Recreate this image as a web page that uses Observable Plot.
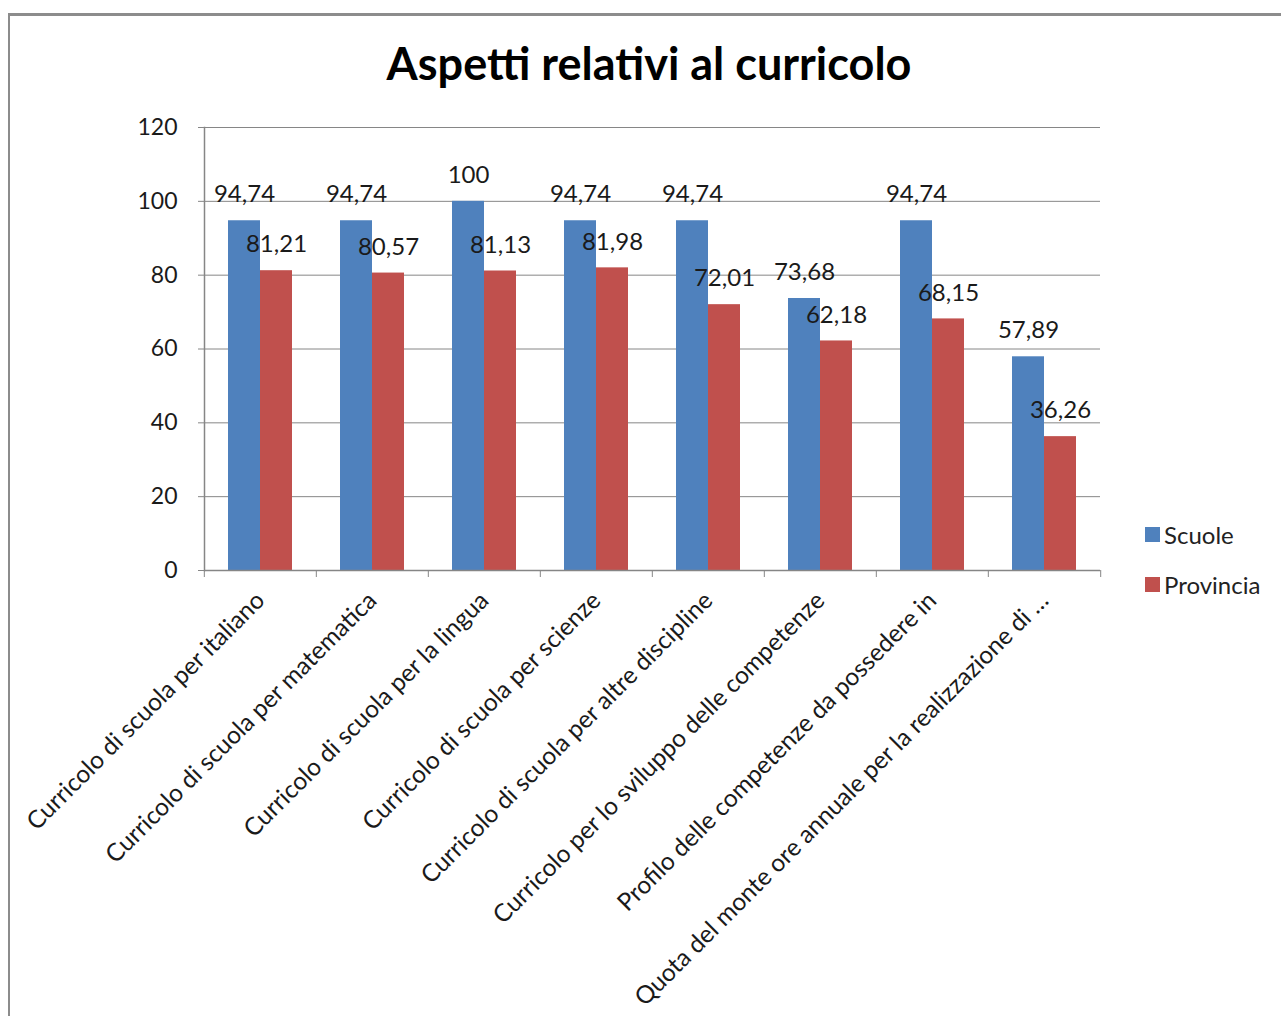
<!DOCTYPE html>
<html>
<head>
<meta charset="utf-8">
<script src="https://cdn.jsdelivr.net/npm/d3@7"></script>
<script src="https://cdn.jsdelivr.net/npm/@observablehq/plot@0.6"></script>
<style>
  html, body { margin: 0; padding: 0; background: #fff; overflow: hidden; width: 1281px; height: 1016px; }
  #frame { position: absolute; left: 8px; top: 13px; width: 2000px; height: 2000px;
           border-top: 3px solid #8c8c8c; border-left: 2px solid #8c8c8c; box-sizing: border-box; }
  #title { position: absolute; left: 0; width: 1298px; top: 36px; text-align: center;
           font-family: Lato, sans-serif; font-weight: 700; font-size: 45px; color: #000; }
  #chart { position: absolute; left: 0; top: 0; }
  #legend { position: absolute; left: 1145px; top: 510px; }
  #legend svg { margin-right: 4px !important; }
</style>
</head>
<body>
<div id="frame"></div>
<div id="chart"></div>
<div id="title">Aspetti relativi al curricolo</div>
<div id="legend"></div>
<script>
const categories = [
  "Curricolo di scuola per italiano",
  "Curricolo di scuola per matematica",
  "Curricolo di scuola per la lingua",
  "Curricolo di scuola per scienze",
  "Curricolo di scuola per altre discipline",
  "Curricolo per lo sviluppo delle competenze",
  "Profilo delle competenze da possedere in",
  "Quota del monte ore annuale per la realizzazione di …"
];
const seriesNames = ["Scuole", "Provincia"];
const scuole = [94.74, 94.74, 100, 94.74, 94.74, 73.68, 94.74, 57.89];
const provincia = [81.21, 80.57, 81.13, 81.98, 72.01, 62.18, 68.15, 36.26];
const yTicks = [0, 20, 40, 60, 80, 100, 120];
const colors = ["#4F81BD", "#C0504D"];

const rows = categories.flatMap((c, i) => [
  {category: c, series: seriesNames[0], value: scuole[i]},
  {category: c, series: seriesNames[1], value: provincia[i]}
]);
const fmt = v => String(v).replace(".", ",");
const half = 899 / categories.length / 2;

const chart = Plot.plot({
  width: 1281,
  height: 1016,
  marginLeft: 202,
  marginRight: 180,
  marginTop: 127,
  marginBottom: 446,
  style: {fontFamily: "Lato, sans-serif", fontSize: "22px", color: "#222", background: "transparent", overflow: "visible"},
  fx: {domain: categories, padding: 0, label: null, axis: null},
  x: {domain: seriesNames, paddingInner: 0, paddingOuter: 0.73, axis: null},
  y: {domain: [0, 120], label: null},
  color: {domain: seriesNames, range: colors},
  marks: [
    Plot.gridY(yTicks, {stroke: "#868686", strokeOpacity: 1, strokeWidth: 1}),
    Plot.barY(rows, {fx: "category", x: "series", y: "value", fill: "series"}),
    Plot.ruleY([0], {stroke: "#868686", strokeWidth: 1.5}),
    Plot.frame({anchor: "left", facetAnchor: "left", stroke: "#868686", strokeWidth: 1.5}),
    Plot.text(rows, {fx: "category", x: "series", y: "value", text: d => fmt(d.value), dy: -26, fontSize: 24, fill: "#1a1a1a"}),
    Plot.axisY({ticks: yTicks, tickSize: 6, tickPadding: 21, stroke: "#868686", fontSize: 23, fill: "#1a1a1a", label: null}),
    Plot.axisFx({anchor: "bottom", tickSize: 7, tickFormat: () => "", dx: -half, stroke: "#868686", label: null}),
    Plot.axisFx({anchor: "bottom", ticks: [categories[categories.length - 1]], tickSize: 7, tickFormat: () => "", dx: half, stroke: "#868686", label: null}),
    Plot.axisFx({anchor: "bottom", tickSize: 0, tickRotate: -45, tickPadding: 26, textAnchor: "end", fontSize: 24.5, fill: "#1a1a1a", label: null, lineWidth: 100})
  ]
});
document.getElementById("chart").appendChild(chart);

const legend = Plot.legend({
  color: {domain: seriesNames, range: colors},
  columns: 1,
  swatchSize: 15,
  style: {fontFamily: "Lato, sans-serif", fontSize: "24px", color: "#222"}
});
document.getElementById("legend").appendChild(legend);
legend.querySelectorAll("div").forEach(el => {
  if ([...el.classList].some(c => c.endsWith("-swatch"))) {
    el.style.height = "49px";
    el.style.lineHeight = "34px";
  }
});
</script>
</body>
</html>
